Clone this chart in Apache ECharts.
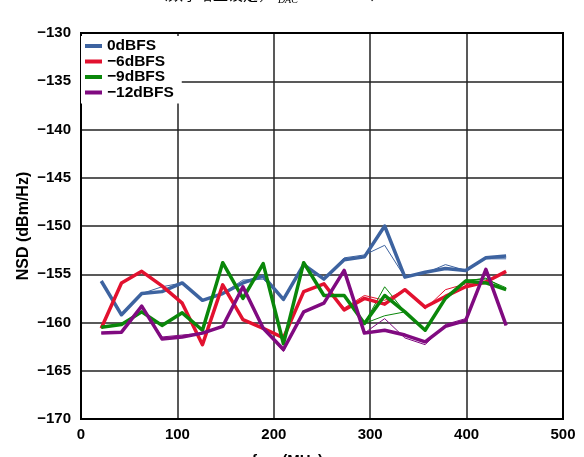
<!DOCTYPE html>
<html><head><meta charset="utf-8">
<script src="https://cdn.jsdelivr.net/npm/echarts@6/dist/echarts.min.js"></script>
<style>html,body{margin:0;padding:0;background:#fff}#c{width:584px;height:457px}</style>
</head><body><div id="c"></div>
<script>
var freqMHz = [21,42,63,84,105,126,147,168,189,210,231,252,273,294,315,336,357,378,399,420,441];
var seriesNames = ['0dBFS','\u22126dBFS','\u22129dBFS','\u221212dBFS'];
var colors = ['#3D63A0','#E2112F','#0A870A','#800A80'];
var nsd0 = [-155.7,-159.2,-157.0,-156.8,-155.9,-157.7,-157.0,-155.9,-155.2,-157.6,-154.0,-155.5,-153.5,-153.2,-150.0,-155.3,-154.8,-154.4,-154.6,-153.3,-153.1];
var nsd0b = [-155.7,-159.2,-157.0,-156.3,-155.9,-157.7,-157.0,-155.6,-155.5,-157.6,-154.0,-155.4,-153.3,-153.0,-152.0,-155.3,-154.9,-154.0,-154.6,-153.4,-153.4];
var nsd6 = [-160.6,-155.9,-154.7,-156.2,-158.0,-162.3,-156.1,-159.7,-160.6,-161.6,-156.8,-156.0,-158.7,-157.5,-158.1,-156.6,-158.4,-157.3,-156.3,-155.8,-154.7];
var nsd6b = [-160.6,-155.9,-154.7,-156.2,-158.0,-162.3,-156.1,-159.7,-160.6,-161.6,-156.8,-156.0,-158.5,-157.2,-157.7,-156.6,-158.6,-156.6,-156.0,-155.7,-154.7];
var nsd9 = [-160.5,-160.2,-158.9,-160.3,-159.0,-160.8,-153.8,-157.5,-153.9,-162.2,-153.8,-157.2,-157.2,-160.1,-157.2,-158.9,-160.8,-157.5,-155.7,-155.9,-156.6];
var nsd9b = [-160.5,-160.2,-158.9,-160.3,-159.0,-160.8,-153.8,-157.5,-153.9,-162.2,-153.8,-157.2,-157.2,-160.1,-156.3,-158.9,-160.8,-157.5,-155.7,-155.4,-156.6];
var nsd9c = [-160.5,-160.2,-158.9,-160.3,-159.0,-160.8,-153.8,-157.5,-153.9,-162.2,-153.8,-157.2,-157.2,-160.1,-159.3,-158.9,-160.8,-157.5,-155.6,-155.5,-156.4];
var nsd12 = [-161.1,-161.0,-158.3,-161.7,-161.5,-161.1,-160.4,-156.3,-160.6,-162.8,-158.9,-158.0,-154.6,-161.1,-160.8,-161.3,-162.0,-160.4,-159.8,-154.5,-160.3];
var nsd12b = [-161.1,-161.0,-158.3,-161.5,-161.3,-161.1,-160.4,-156.3,-160.6,-163.0,-158.9,-158.0,-154.6,-161.1,-159.6,-161.6,-162.3,-160.2,-159.6,-154.5,-160.3];
var xTicks = [0,100,200,300,400,500];
var yTicks = [-170,-165,-160,-155,-150,-145,-140,-135,-130];

function pairs(v){ return freqMHz.map(function(f,i){ return [f, v[i]]; }); }
function mk(name, color, vals, w){
  return { name: name, type: 'line', data: pairs(vals), showSymbol: false, symbol: 'none',
    lineStyle: { color: color, width: w, join: 'round' }, itemStyle: { color: color }, z: w > 2 ? 3 : 2, animation: false };
}
var lab = { fontFamily: 'Liberation Sans, Arial', fontWeight: 'bold', fontSize: 15, color: '#000' };
var chart = echarts.init(document.getElementById('c'), null, { renderer: 'canvas' });
chart.setOption({
  animation: false,
  backgroundColor: '#fff',
  grid: { left: 81, right: 21, top: 33, bottom: 38, show: true, borderColor: '#000', borderWidth: 2, z: 4 },
  xAxis: { type: 'value', min: 0, max: 500, interval: 100,
    axisLine: { show: false }, axisTick: { show: false },
    axisLabel: Object.assign({ margin: 8, formatter: function(v){ return xTicks.indexOf(v) >= 0 ? String(v) : ''; } }, lab),
    splitLine: { show: true, lineStyle: { color: '#222', width: 1.5 } } },
  yAxis: { type: 'value', min: -170, max: -130, interval: 5,
    axisLine: { show: false }, axisTick: { show: false },
    axisLabel: Object.assign({ margin: 10, formatter: function(v){ return yTicks.indexOf(v) >= 0 ? String(v).replace('-', '\u2212') : ''; } }, lab),
    splitLine: { show: true, lineStyle: { color: '#222', width: 1.5 } },
    name: 'NSD (dBm/Hz)', nameLocation: 'middle', nameGap: 49, nameRotate: 90, nameMoveOverlap: false,
    nameTextStyle: { fontFamily: 'Liberation Sans, Arial', fontWeight: 'bold', fontSize: 16, color: '#000' } },
  legend: { data: seriesNames, orient: 'vertical', left: 81, top: 36, padding: [2, 8, 3, 4], itemGap: -0.5,
    itemWidth: 17, itemHeight: 4, icon: 'rect', backgroundColor: '#fff', z: 10,
    textStyle: { fontFamily: 'Liberation Sans, Arial', fontWeight: 'bold', fontSize: 15.5, color: '#000' } },
  graphic: [
    { type: 'text', left: 153, top: -13, z: 20, style: { text: '{a|（数字增益设定，f}{s|DAC}{a| = 12 GSPS）}', rich: {
        a: { fontFamily: 'Noto Sans CJK SC', fontSize: 15, fill: '#000' },
        s: { fontFamily: 'Liberation Serif', fontStyle: 'italic', fontSize: 10, fill: '#000', padding: [12,0,0,0] } } } },
    { type: 'text', left: 252, top: 453, z: 20, style: { text: '{a|f}{s|OUT}{a| (MHz)}', rich: {
        a: { fontFamily: 'Liberation Sans, Arial', fontWeight: 'bold', fontSize: 15, fill: '#000' },
        s: { fontFamily: 'Liberation Sans, Arial', fontWeight: 'bold', fontSize: 10, fill: '#000', padding: [8,0,0,0] } } } }
  ],
  series: [
    mk(seriesNames[0], colors[0], nsd0b, 1),
    mk(seriesNames[1], colors[1], nsd6b, 1),
    mk(seriesNames[2], colors[2], nsd9b, 1),
    mk(seriesNames[2], colors[2], nsd9c, 1),
    mk(seriesNames[3], colors[3], nsd12b, 1),
    mk(seriesNames[0], colors[0], nsd0, 3.5),
    mk(seriesNames[1], colors[1], nsd6, 3.5),
    mk(seriesNames[2], colors[2], nsd9, 3.5),
    mk(seriesNames[3], colors[3], nsd12, 3.5)
  ]
});
</script></body></html>
